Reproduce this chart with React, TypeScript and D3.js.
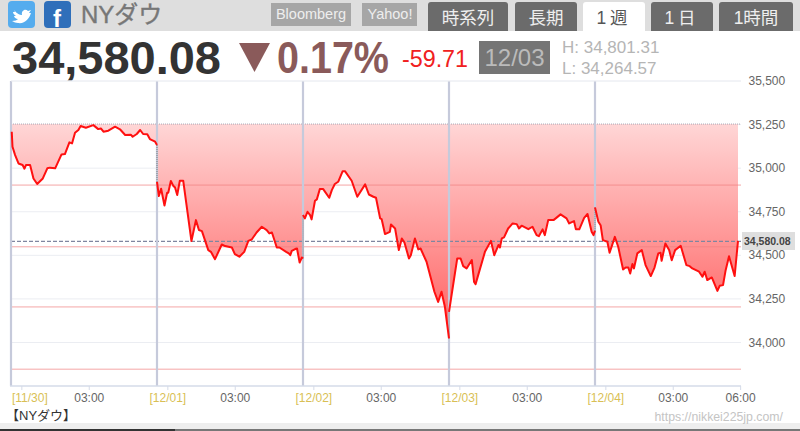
import React from "react";
import * as d3 from "d3";

const sessionMinutes = 390;
const s1T = [2,4,11,20,31,36,40,51,60,70,85,97,104,118,135,144,156,163,171,180,186,200,220,233,240,247,260,278,291,305,320,325,336,345,353,364,371,385,390];
const s1V = [35209,35123,35075,35027,35018,34997,35018,35018,34941,34909,34941,34999,35003,34999,35079,35081,35148,35142,35203,35219,35242,35232,35247,35224,35228,35209,35215,35238,35223,35190,35192,35180,35196,35219,35196,35194,35167,35152,35133];
const s2T = [0,5,11,20,27,30,37,44,48,54,61,70,92,104,112,120,137,144,155,173,182,200,208,220,233,244,253,266,280,293,300,307,320,327,345,352,356,360,369,374,381,387,390];
const s2V = [34922,34840,34882,34786,34859,34859,34926,34897,34890,34846,34928,34928,34582,34702,34645,34639,34530,34520,34478,34562,34553,34545,34507,34492,34520,34583,34591,34631,34664,34645,34626,34631,34545,34545,34520,34511,34501,34526,34536,34539,34459,34488,34482];
const s3T = [0,5,12,19,23,32,37,45,54,70,77,85,94,106,112,130,145,166,176,188,195,206,210,219,232,235,246,256,264,271,283,288,299,308,314,330,337,351,361,370,379,390];
const s3V = [34731,34712,34750,34731,34706,34813,34821,34880,34880,34830,34874,34909,34922,34983,34983,34928,34836,34907,34849,34836,34830,34712,34708,34622,34635,34677,34654,34530,34597,34574,34482,34501,34597,34534,34539,34463,34406,34291,34233,34291,34205,34023];
const s4T = [0,22,31,38,47,61,67,71,96,112,121,132,136,141,147,158,170,181,187,194,212,223,234,240,250,256,265,279,285,298,314,321,334,339,348,361,370,381,386,390];
const s4V = [34176,34482,34482,34438,34425,34473,34348,34335,34520,34583,34501,34559,34545,34597,34603,34654,34683,34679,34654,34670,34650,34664,34616,34610,34649,34616,34702,34702,34712,34735,34712,34683,34696,34649,34649,34715,34737,34635,34616,34641];
const s5T = [0,9,15,21,33,39,53,62,75,82,89,94,100,104,113,125,135,149,159,169,175,178,188,198,205,214,229,244,253,260,278,287,293,300,312,327,333,342,349,358,373,382];
const s5V = [34775,34693,34673,34587,34578,34515,34606,34549,34419,34430,34430,34396,34450,34425,34511,34530,34444,34381,34430,34511,34515,34469,34568,34530,34472,34530,34555,34444,34438,34425,34406,34377,34406,34358,34373,34296,34325,34329,34415,34495,34381,34583];
const sessionTimes = [s1T, s2T, s3T, s4T, s5T];
const sessionValues = [s1V, s2V, s3V, s4V, s5V];

const yTicks = [35500, 35250, 35000, 34750, 34500, 34250, 34000];
const pivotLevels = [34903, 34549, 34204, 33847];
const lastValue = 34580.08;
const topLevel = 35253;
const dayTicks = [["[11/30]", 0, 29], ["03:00", 0, 209], ["[12/01]", 1, 29], ["03:00", 1, 209], ["[12/02]", 2, 29], ["03:00", 2, 209], ["[12/03]", 3, 29], ["03:00", 3, 209], ["[12/04]", 4, 29], ["03:00", 4, 209], ["06:00", 4, 389]] as [string, number, number][];
const buttons = [["時系列", 428, 80], ["長期", 515, 62], ["1週", 583, 62], ["1日", 651, 62], ["1時間", 719, 74]] as [string, number, number][];

const SANS = "'Liberation Sans', Arial, 'Noto Sans CJK JP', sans-serif";
const CJK = "'Liberation Sans', 'Noto Sans CJK JP', sans-serif";

export default function App() {
  const x = d3.scaleLinear().domain([0, 5 * sessionMinutes]).range([11, 741]);
  const y = d3.scaleLinear().domain([34000, 35500]).range([342.5, 81]);
  const pts = sessionTimes.map((ts, i) => ts.map((t, j) => ({ t: i * sessionMinutes + t, v: sessionValues[i][j] })));
  const line = d3.line<{ t: number; v: number }>().x(d => x(d.t)).y(d => y(d.v));
  const area = d3.area<{ t: number; v: number }>().x(d => x(d.t)).y0(y(topLevel)).y1(d => y(d.v));
  const fmt = d3.format(",");
  const seps = [0, 1, 2, 3, 4].map(i => x(i * sessionMinutes));
  return (
    <svg width={800} height={431} style={{ position: "absolute", left: 0, top: 0, background: "#fff" }}>
      <defs>
        <linearGradient id="fill" gradientUnits="userSpaceOnUse" x1={0} x2={0} y1={124} y2={342}>
          <stop offset="0" stopColor="#ffd6d6" />
          <stop offset="1" stopColor="#ff5c5c" />
        </linearGradient>
      </defs>
      <rect x={0} y={0} width={800} height={31} fill="#dedede" />
      <rect x={0} y={423} width={800} height={6} fill="#eeeeee" />
      <rect x={0} y={429} width={175} height={2} fill="#333" />
      <rect x={175} y={429} width={625} height={2} fill="#777" />
      <rect x={8} y={1} width={27} height={27} rx={4} fill="#55acee" />
      <path d="M14 10 C17 14 20 15 22 15 C21 11 25 8 28 11 L31 10 L29 13 L31 13 C29 19 25 24 18 23 C16 23 14 22 12 21 C15 21 17 20 18 19 C16 19 14 17 14 16 L16 16 C14 15 13 13 13 12 L15 12 Z" fill="#fff" />
      <rect x={44} y={1} width={27} height={27} rx={4} fill="#2f6fba" />
      <text x={53} y={27} fontFamily={SANS} fontWeight="bold" fontSize={24} fill="#fff">f</text>
      <text x={81} y={23} fontFamily={CJK} fontSize={24} fill="#777" stroke="#777" strokeWidth={0.4}>NYダウ</text>
      <rect x={271} y={3} width={80} height={23} fill="#a6a6a6" />
      <text x={311} y={19} textAnchor="middle" fontFamily={SANS} fontSize={14.5} fill="#eee">Bloomberg</text>
      <rect x={362} y={3} width={55} height={23} fill="#a6a6a6" />
      <text x={390} y={19} textAnchor="middle" fontFamily={SANS} fontSize={14.5} fill="#eee">Yahoo!</text>
      {buttons.map(([label, bx, w], i) => (
        <g key={label}>
          <path d={`M${bx} 31 V5 Q${bx} 2 ${bx + 3} 2 H${bx + w - 3} Q${bx + w} 2 ${bx + w} 5 V31 Z`} fill={i === 2 ? "#fff" : "#6b6b6b"} />
          <text x={bx + w / 2} y={24} textAnchor="middle" fontFamily={CJK} fontSize={17.5} letterSpacing={i === 2 || i === 3 ? 4 : 0} fill={i === 2 ? "#555" : "#eee"}>{label}</text>
        </g>
      ))}
      <text x={12} y={74} fontFamily={SANS} fontWeight="bold" fontSize={47} fill="#333" textLength={209} lengthAdjust="spacingAndGlyphs">34,580.08</text>
      <path d="M239 43 H270 L254.5 72 Z" fill="#8a5a5a" />
      <text x={277} y={73} fontFamily={SANS} fontWeight="bold" fontSize={44} fill="#8a5a5a" textLength={112} lengthAdjust="spacingAndGlyphs">0.17%</text>
      <text x={402} y={67} fontFamily={SANS} fontSize={24} fill="#f02020" textLength={66} lengthAdjust="spacingAndGlyphs">-59.71</text>
      <rect x={479} y={41} width={71} height={33} fill="#757575" />
      <text x={514.5} y={66} textAnchor="middle" fontFamily={SANS} fontSize={24} fill="#bbb">12/03</text>
      <text x={562} y={53} fontFamily={SANS} fontSize={17} fill="#b5b5b5">H: 34,801.31</text>
      <text x={562} y={74} fontFamily={SANS} fontSize={17} fill="#b5b5b5">L:  34,264.57</text>

      {yTicks.map(t => (
        <g key={t}>
          <line x1={11} x2={741} y1={y(t)} y2={y(t)} stroke="#ebedf2" strokeWidth={1} />
          <text x={748.5} y={y(t) + 4} fontFamily={SANS} fontSize={12} fill="#666">{fmt(t)}</text>
        </g>
      ))}
      {pts.map((p, i) => <path key={i} d={area(p) || ""} fill="url(#fill)" />)}
      {pivotLevels.map(l => <line key={l} x1={11} x2={741} y1={y(l)} y2={y(l)} stroke="#f08080" strokeOpacity={0.7} strokeWidth={1} />)}
      <line x1={11} x2={741} y1={y(topLevel)} y2={y(topLevel)} stroke="#a8a8b6" strokeWidth={1} strokeDasharray="1 1" />
      <line x1={11} x2={741} y1={y(lastValue)} y2={y(lastValue)} stroke="#7f86a0" strokeWidth={1.3} strokeDasharray="4 2" />
      {seps.map(sx => <line key={sx} x1={sx} x2={sx} y1={81} y2={386} stroke="#c6cadb" strokeWidth={2.2} />)}
      <line x1={10} x2={741} y1={386} y2={386} stroke="#d5dbe8" strokeWidth={1.5} />
      <line x1={11} x2={741} y1={81} y2={81} stroke="#eef0f4" strokeWidth={1} />
      {pts.slice(1).map((p, i) => {
        const prev = pts[i][pts[i].length - 1];
        return <line key={i} x1={x(p[0].t)} x2={x(p[0].t)} y1={y(prev.v)} y2={y(p[0].v)} stroke="#777" strokeWidth={1} strokeDasharray="1 1" />;
      })}
      {pts.map((p, i) => <path key={i} d={line(p) || ""} fill="none" stroke="#ff1010" strokeWidth={2} strokeLinejoin="round" />)}
      {dayTicks.map(([label, s, m], i) => {
        const tx = x(s * sessionMinutes + m);
        const offset = i === 0 ? 8 : 0;
        return (
          <g key={i}>
            <line x1={tx} x2={tx} y1={386} y2={390} stroke="#d5dbe8" />
            <text x={tx + offset} y={402} textAnchor="middle" fontFamily={SANS} fontSize={12} fill={label[0] === "[" ? "#d9bf55" : "#666"}>{label}</text>
          </g>
        );
      })}
      <rect x={742} y={232} width={53} height={18} fill="#dedede" />
      <text x={744} y={245} fontFamily={SANS} fontWeight="bold" fontSize={10.5} fill="#444">34,580.08</text>
      <text x={6} y={420} fontFamily={CJK} fontSize={13} fill="#333">【NYダウ】</text>
      <text x={783} y={421} textAnchor="end" fontFamily={SANS} fontSize={12.3} fill="#c4c4c4">https://nikkei225jp.com/</text>
    </svg>
  );
}
